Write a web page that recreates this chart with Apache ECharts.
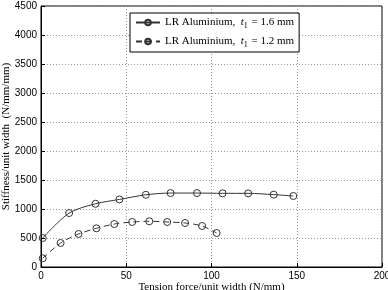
<!DOCTYPE html>
<html><head><meta charset="utf-8">
<script src="https://cdn.jsdelivr.net/npm/echarts@6/dist/echarts.min.js"></script>
<style>html,body{margin:0;padding:0;background:#fff}#c{width:388px;height:290px}</style>
</head><body><div id="c"></div>
<script>
var xSolid = [1, 16.5, 32, 46, 61.5, 76, 91.5, 106.5, 121.5, 136.5, 148];
var ySolid = [500, 930, 1090, 1165, 1245, 1275, 1275, 1270, 1270, 1248, 1224];
var xDash = [1, 11.5, 22, 32.5, 43, 53.5, 63.5, 74, 84.5, 94.5, 103];
var yDash = [150, 414, 569, 667, 741, 776, 788, 776, 759, 707, 586];
var seriesNames = ['s16', 's12'];
var legendThickness = ['1.6', '1.2'];
var xTicks = [0, 50, 100, 150, 200];
var yTicks = [0, 500, 1000, 1500, 2000, 2500, 3000, 3500, 4000, 4500];

function pairs(xs, ys){ return xs.map(function(x,i){return [x, ys[i]];}); }

var chart = echarts.init(document.getElementById('c'), null, {renderer:'canvas'});
var serif = 'Liberation Serif';
var sans = 'Liberation Sans';
var clear = 'rgba(255,255,255,0)';
chart.setOption({
  animation:false,
  grid:{left:41, right:6, top:6, bottom:23, outerBoundsMode:'none', containLabel:false,
        show:true, borderColor:'#000', borderWidth:1, backgroundColor:'transparent'},
  legend:{
    left:130, top:13, orient:'vertical', itemGap:6, itemWidth:24, itemHeight:7,
    padding:[4,5,3,5], borderColor:'#000', borderWidth:1, backgroundColor:'#fff',
    data: seriesNames,
    formatter:function(n){
      var t = legendThickness[seriesNames.indexOf(n)];
      return '{a|LR Aluminium,  }{i|t}{s|1}{a| = ' + t + ' mm}';
    },
    textStyle:{fontFamily:serif, fontSize:11, color:'#000',
      rich:{a:{fontFamily:serif, fontSize:11, color:'#000'},
            i:{fontFamily:serif, fontSize:11, fontStyle:'italic', color:'#000'},
            s:{fontFamily:serif, fontSize:8, color:'#000', padding:[7,1,0,0]}}}
  },
  xAxis:{type:'value', min:0, max:200, interval:50,
    axisLine:{show:true, lineStyle:{color:'#000'}},
    axisTick:{show:true, inside:true, length:4, lineStyle:{color:'#000'}},
    axisLabel:{fontFamily:sans, fontSize:10, color:'#000', margin:4,
      formatter:function(v){return xTicks.indexOf(v)>=0 ? String(v) : '';}},
    splitLine:{show:true, lineStyle:{color:'#999', type:[1,2], width:1}},
    name:'Tension force/unit width (N/mm)', nameLocation:'middle', nameGap:15, nameMoveOverlap:false,
    nameTextStyle:{fontFamily:serif, fontSize:11, color:'#000'}
  },
  yAxis:{type:'value', min:0, max:4500, interval:500,
    axisLine:{show:true, lineStyle:{color:'#000'}},
    axisTick:{show:true, inside:true, length:4, lineStyle:{color:'#000'}},
    axisLabel:{fontFamily:sans, fontSize:10, color:'#000', margin:4,
      formatter:function(v){return yTicks.indexOf(v)>=0 ? String(v) : '';}},
    splitLine:{show:true, lineStyle:{color:'#999', type:[1,2], width:1}},
    name:'Stiffness/unit width  (N/mm/mm)', nameLocation:'middle', nameGap:29, nameMoveOverlap:false,
    nameTextStyle:{fontFamily:serif, fontSize:11, color:'#000'}
  },
  series:[
    {name:seriesNames[0], type:'line', data:pairs(xSolid, ySolid), smooth:0.3,
     symbol:'circle', symbolSize:7, showSymbol:true,
     lineStyle:{color:'#333', width:1},
     itemStyle:{color:clear, borderColor:'#333', borderWidth:1}},
    {name:seriesNames[1], type:'line', data:pairs(xDash, yDash), smooth:0.3,
     symbol:'circle', symbolSize:7, showSymbol:true,
     lineStyle:{color:'#333', width:1, type:[6,4]},
     itemStyle:{color:clear, borderColor:'#333', borderWidth:1}}
  ]
});
</script></body></html>
